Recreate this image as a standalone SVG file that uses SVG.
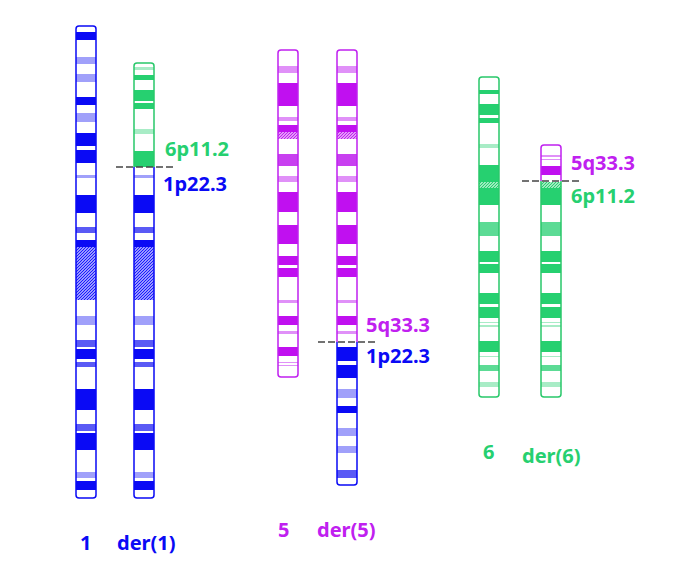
<svg xmlns="http://www.w3.org/2000/svg" width="675" height="570" viewBox="0 0 675 570">
<defs>
<pattern id="hb" width="3" height="3" patternUnits="userSpaceOnUse"><rect width="3" height="3" fill="#fff"/><path d="M-1,1 l2,-2 M0,3 l3,-3 M2,4 l2,-2" stroke="#1a1aff" stroke-width="1.3"/></pattern>
<pattern id="hp" width="3" height="3" patternUnits="userSpaceOnUse"><rect width="3" height="3" fill="#fff"/><path d="M-1,1 l2,-2 M0,3 l3,-3 M2,4 l2,-2" stroke="#c020f0" stroke-width="1.3"/></pattern>
<pattern id="hg" width="3" height="3" patternUnits="userSpaceOnUse"><rect width="3" height="3" fill="#fff"/><path d="M-1,1 l2,-2 M0,3 l3,-3 M2,4 l2,-2" stroke="#28d070" stroke-width="1.3"/></pattern>
</defs>
<style>
.bd{fill:#0a0af5}.bm{fill:#5a5af5}.bl{fill:#a0a0fa}
.pd{fill:#c010f0}.pm{fill:#c840f0}.pl{fill:#e090f8}
.gd{fill:#26d070}.gm{fill:#5cdb95}.gl{fill:#a8ecc6}
.ob{fill:none;stroke:#0a0af5;stroke-width:1.5}
.op{fill:none;stroke:#c020f0;stroke-width:1.5}
.og{fill:none;stroke:#28c86a;stroke-width:1.5}
.brk{stroke:#444;stroke-width:1.4;stroke-dasharray:7 3;fill:none}
text{font-family:"Noto Sans","DejaVu Sans",sans-serif;font-weight:bold;font-size:20px}
.tb{fill:#0a0af5}.tp{fill:#c020f0}.tg{fill:#26d070}
</style>
<rect width="675" height="570" fill="#fff"/>

<g id="chr1">
<rect x="76" y="26" width="20" height="472" rx="3" fill="#fff"/>
<rect class="bd" x="76" y="32" width="20" height="8"/>
<rect class="bl" x="76" y="57" width="20" height="7"/>
<rect class="bl" x="76" y="74" width="20" height="8"/>
<rect class="bd" x="76" y="97" width="20" height="8"/>
<rect class="bl" x="76" y="113" width="20" height="9"/>
<rect class="bd" x="76" y="133" width="20" height="13"/>
<rect class="bd" x="76" y="150" width="20" height="13"/>
<rect class="bl" x="76" y="175" width="20" height="3"/>
<rect class="bd" x="76" y="195" width="20" height="18"/>
<rect class="bm" x="76" y="227" width="20" height="6"/>
<rect class="bd" x="76" y="240" width="20" height="7"/>
<rect fill="url(#hb)" x="76" y="247" width="20" height="53"/>
<rect class="bl" x="76" y="316" width="20" height="9"/>
<rect class="bm" x="76" y="340" width="20" height="7"/>
<rect class="bd" x="76" y="349" width="20" height="10"/>
<rect class="bm" x="76" y="362" width="20" height="5"/>
<rect class="bd" x="76" y="389" width="20" height="21"/>
<rect class="bm" x="76" y="424" width="20" height="7"/>
<rect class="bd" x="76" y="433" width="20" height="17"/>
<rect class="bl" x="76" y="472" width="20" height="6"/>
<rect class="bd" x="76" y="481" width="20" height="9"/>
<rect class="ob" x="76" y="26" width="20" height="472" rx="3"/>
<text class="tb" x="80" y="550">1</text>
</g>

<g id="der1">
<rect x="134" y="63" width="20" height="435" rx="3" fill="#fff"/>
<rect class="gl" x="134" y="67" width="20" height="3"/>
<rect class="gd" x="134" y="75" width="20" height="5"/>
<rect class="gd" x="134" y="90" width="20" height="11"/>
<rect class="gd" x="134" y="103" width="20" height="6"/>
<rect class="gl" x="134" y="129" width="20" height="5"/>
<rect class="gd" x="134" y="151" width="20" height="16"/>
<rect class="bl" x="134" y="175" width="20" height="3"/>
<rect class="bd" x="134" y="195" width="20" height="18"/>
<rect class="bm" x="134" y="227" width="20" height="6"/>
<rect class="bd" x="134" y="240" width="20" height="7"/>
<rect fill="url(#hb)" x="134" y="247" width="20" height="53"/>
<rect class="bl" x="134" y="316" width="20" height="9"/>
<rect class="bm" x="134" y="340" width="20" height="7"/>
<rect class="bd" x="134" y="349" width="20" height="10"/>
<rect class="bm" x="134" y="362" width="20" height="5"/>
<rect class="bd" x="134" y="389" width="20" height="21"/>
<rect class="bm" x="134" y="424" width="20" height="7"/>
<rect class="bd" x="134" y="433" width="20" height="17"/>
<rect class="bl" x="134" y="472" width="20" height="6"/>
<rect class="bd" x="134" y="481" width="20" height="9"/>
<path class="og" d="M134,167 V66 Q134,63 137,63 H151 Q154,63 154,66 V167"/>
<path class="ob" d="M134,167 V495 Q134,498 137,498 H151 Q154,498 154,495 V167"/>
<text class="tg" x="165" y="156">6p11.2</text>
<text class="tb" x="163" y="191">1p22.3</text>
<text class="tb" x="117" y="550">der(1)</text>
</g>

<g id="chr5">
<rect x="278" y="50" width="20" height="327" rx="3" fill="#fff"/>
<rect class="pl" x="278" y="66" width="20" height="7"/>
<rect class="pd" x="278" y="83" width="20" height="23"/>
<rect class="pl" x="278" y="117" width="20" height="4"/>
<rect class="pd" x="278" y="125" width="20" height="7"/>
<rect fill="url(#hp)" x="278" y="132" width="20" height="7"/>
<rect class="pm" x="278" y="154" width="20" height="12"/>
<rect class="pl" x="278" y="176" width="20" height="6"/>
<rect class="pd" x="278" y="192" width="20" height="20"/>
<rect class="pd" x="278" y="225" width="20" height="19"/>
<rect class="pd" x="278" y="256" width="20" height="9"/>
<rect class="pd" x="278" y="268" width="20" height="9"/>
<rect class="pl" x="278" y="300" width="20" height="3"/>
<rect class="pd" x="278" y="316" width="20" height="9"/>
<rect class="pl" x="278" y="331" width="20" height="3"/>
<rect class="pd" x="278" y="347" width="20" height="9"/>
<rect class="pl" x="278" y="362" width="20" height="1"/>
<rect class="pl" x="278" y="365" width="20" height="1"/>
<rect class="op" x="278" y="50" width="20" height="327" rx="3"/>
<text class="tp" x="278" y="537">5</text>
</g>

<g id="der5">
<rect x="337" y="50" width="20" height="435" rx="3" fill="#fff"/>
<rect class="pl" x="337" y="66" width="20" height="7"/>
<rect class="pd" x="337" y="83" width="20" height="23"/>
<rect class="pl" x="337" y="117" width="20" height="4"/>
<rect class="pd" x="337" y="125" width="20" height="7"/>
<rect fill="url(#hp)" x="337" y="132" width="20" height="7"/>
<rect class="pm" x="337" y="154" width="20" height="12"/>
<rect class="pl" x="337" y="176" width="20" height="6"/>
<rect class="pd" x="337" y="192" width="20" height="20"/>
<rect class="pd" x="337" y="225" width="20" height="19"/>
<rect class="pd" x="337" y="256" width="20" height="9"/>
<rect class="pd" x="337" y="268" width="20" height="9"/>
<rect class="pl" x="337" y="300" width="20" height="3"/>
<rect class="pd" x="337" y="316" width="20" height="9"/>
<rect class="pl" x="337" y="331" width="20" height="3"/>
<rect class="bd" x="337" y="347" width="20" height="14"/>
<rect class="bd" x="337" y="365" width="20" height="13"/>
<rect class="bl" x="337" y="389" width="20" height="9"/>
<rect class="bd" x="337" y="406" width="20" height="7"/>
<rect class="bl" x="337" y="428" width="20" height="8"/>
<rect class="bl" x="337" y="446" width="20" height="7"/>
<rect class="bm" x="337" y="470" width="20" height="8"/>
<path class="op" d="M337,342 V53 Q337,50 340,50 H354 Q357,50 357,53 V342"/>
<path class="ob" d="M337,342 V482 Q337,485 340,485 H354 Q357,485 357,482 V342"/>
<text class="tp" x="366" y="332">5q33.3</text>
<text class="tb" x="366" y="363">1p22.3</text>
<text class="tp" x="317" y="537">der(5)</text>
</g>

<g id="chr6">
<rect x="479" y="77" width="20" height="320" rx="3" fill="#fff"/>
<rect class="gd" x="479" y="90" width="20" height="4"/>
<rect class="gd" x="479" y="104" width="20" height="11"/>
<rect class="gd" x="479" y="118" width="20" height="5"/>
<rect class="gl" x="479" y="144" width="20" height="4"/>
<rect class="gd" x="479" y="165" width="20" height="17"/>
<rect fill="url(#hg)" x="479" y="182" width="20" height="6"/>
<rect class="gd" x="479" y="188" width="20" height="17"/>
<rect class="gm" x="479" y="222" width="20" height="14"/>
<rect class="gd" x="479" y="251" width="20" height="11"/>
<rect class="gd" x="479" y="264" width="20" height="9"/>
<rect class="gd" x="479" y="293" width="20" height="11"/>
<rect class="gd" x="479" y="307" width="20" height="11"/>
<rect class="gl" x="479" y="322" width="20" height="1"/>
<rect class="gl" x="479" y="325" width="20" height="2"/>
<rect class="gd" x="479" y="341" width="20" height="11"/>
<rect class="gl" x="479" y="356" width="20" height="1"/>
<rect class="gm" x="479" y="365" width="20" height="6"/>
<rect class="gl" x="479" y="382" width="20" height="5"/>
<rect class="og" x="479" y="77" width="20" height="320" rx="3"/>
<text class="tg" x="483" y="459">6</text>
</g>

<g id="der6">
<rect x="541" y="145" width="20" height="252" rx="3" fill="#fff"/>
<rect class="pl" x="541" y="155" width="20" height="2"/>
<rect class="pl" x="541" y="159" width="20" height="1"/>
<rect class="pd" x="541" y="166" width="20" height="9"/>
<rect fill="url(#hg)" x="541" y="182" width="20" height="6"/>
<rect class="gd" x="541" y="188" width="20" height="17"/>
<rect class="gm" x="541" y="222" width="20" height="14"/>
<rect class="gd" x="541" y="251" width="20" height="11"/>
<rect class="gd" x="541" y="264" width="20" height="9"/>
<rect class="gd" x="541" y="293" width="20" height="11"/>
<rect class="gd" x="541" y="307" width="20" height="11"/>
<rect class="gl" x="541" y="322" width="20" height="1"/>
<rect class="gl" x="541" y="325" width="20" height="2"/>
<rect class="gd" x="541" y="341" width="20" height="11"/>
<rect class="gl" x="541" y="356" width="20" height="1"/>
<rect class="gm" x="541" y="365" width="20" height="6"/>
<rect class="gl" x="541" y="382" width="20" height="5"/>
<path class="op" d="M541,181 V148 Q541,145 544,145 H558 Q561,145 561,148 V181"/>
<path class="og" d="M541,181 V394 Q541,397 544,397 H558 Q561,397 561,394 V181"/>
<text class="tp" x="571" y="170">5q33.3</text>
<text class="tg" x="571" y="203">6p11.2</text>
<text class="tg" x="522" y="463">der(6)</text>
</g>

<g id="connectors">
<line class="brk" x1="116" y1="167" x2="173" y2="167"/>
<line class="brk" x1="318" y1="342" x2="376" y2="342"/>
<line class="brk" x1="522" y1="181" x2="580" y2="181"/>
</g>
</svg>
